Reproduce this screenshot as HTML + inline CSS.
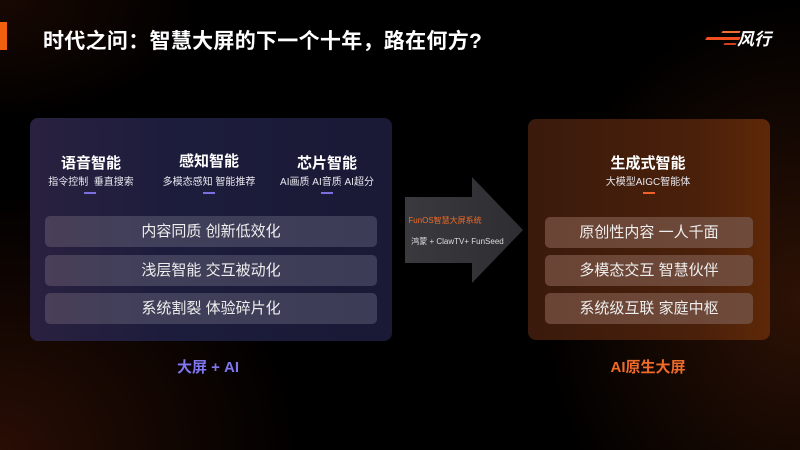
<!DOCTYPE html>
<html><head><meta charset="utf-8"><style>
*{margin:0;padding:0;box-sizing:border-box}
body{width:800px;height:450px;overflow:hidden;background:#000;font-family:"Liberation Sans","Noto Sans CJK SC",sans-serif;color:#fff;position:relative}
.bg{position:absolute;inset:0;background:radial-gradient(ellipse 300px 260px at 0 450px,rgba(90,30,10,.45),transparent),radial-gradient(ellipse 260px 300px at 800px 300px,rgba(90,35,10,.5),transparent),radial-gradient(ellipse 200px 120px at 0 0,rgba(60,20,5,.4),transparent)}
.abs{position:absolute}
.title{left:43px;top:25px;font-size:21px;font-weight:bold;letter-spacing:0.3px}
.bar{left:0;top:22px;width:7px;height:28px;background:#f0600f}
.lp{left:30px;top:118px;width:362px;height:223px;border-radius:8px;background:linear-gradient(90deg,#2a2140,#1c1c3c 40%,#1a1a36)}
.rp{left:528px;top:119px;width:242px;height:221px;border-radius:8px;background:linear-gradient(90deg,#3a1a0c,#4a200a 70%,#5e2808)}
.h{font-size:15px;font-weight:bold;text-align:center;width:120px}
.s{font-size:10px;text-align:center;width:130px;color:#e8e8f0}
.dl{width:12px;height:2px;background:#7b6fe0}
.row{height:31px;border-radius:5px;font-size:15px;text-align:center;line-height:31px;color:#eee}
.lr{left:45px;width:332px;background:linear-gradient(90deg,#4a3e58,#40405a 30%,#3c3c56)}
.rr{left:545px;width:208px;background:linear-gradient(90deg,#6a4434,#6e4a3a)}
</style></head><body>
<div class="bg"></div>
<div class="abs bar"></div>
<div class="abs title">时代之问：智慧大屏的下一个十年，路在何方?</div>
<div class="abs" style="left:722px;top:31px;width:18px;height:2px;background:#f07030;transform:skewX(-30deg)"></div>
<div class="abs" style="left:706px;top:37px;width:34px;height:3px;background:#f05020;transform:skewX(-30deg)"></div>
<div class="abs" style="left:724px;top:43px;width:12px;height:2px;background:#d04020;transform:skewX(-30deg)"></div>
<div class="abs" style="left:737px;top:25px;font-size:17px;font-style:italic;font-weight:bold">风行</div>

<div class="abs lp"></div>
<div class="abs h" style="left:31px;top:152px">语音智能</div>
<div class="abs s" style="left:26px;top:173px">指令控制&nbsp; 垂直搜索</div>
<div class="abs dl" style="left:84px;top:192px"></div>
<div class="abs h" style="left:149px;top:150px">感知智能</div>
<div class="abs s" style="left:144px;top:173px">多模态感知 智能推荐</div>
<div class="abs dl" style="left:203px;top:192px"></div>
<div class="abs h" style="left:267px;top:152px">芯片智能</div>
<div class="abs s" style="left:262px;top:173px">AI画质 AI音质 AI超分</div>
<div class="abs dl" style="left:321px;top:192px"></div>
<div class="abs row lr" style="top:216px">内容同质 创新低效化</div>
<div class="abs row lr" style="top:255px">浅层智能 交互被动化</div>
<div class="abs row lr" style="top:293px">系统割裂 体验碎片化</div>
<div class="abs" style="left:148px;top:356px;width:120px;text-align:center;font-size:15px;font-weight:bold;color:#7f76f0">大屏 + AI</div>

<svg class="abs" style="left:0;top:0" width="800" height="450"><defs><linearGradient id="ag" x1="0" x2="1"><stop offset="0" stop-color="#3a3a3e"/><stop offset="1" stop-color="#2e2e32"/></linearGradient></defs><polygon points="405,197 472,197 472,177 523,230 472,283 472,263 405,263" fill="url(#ag)"/></svg>
<div class="abs" style="left:405px;top:215px;width:80px;text-align:center;font-size:8px;color:#f06a2a">FunOS智慧大屏系统</div>
<div class="abs" style="left:400px;top:236px;width:115px;text-align:center;font-size:8px;color:#ddd">鸿蒙 + ClawTV+ FunSeed</div>

<div class="abs rp"></div>
<div class="abs h" style="left:588px;top:152px">生成式智能</div>
<div class="abs s" style="left:583px;top:173px">大模型AIGC智能体</div>
<div class="abs dl" style="left:643px;top:192px;background:#f0602a"></div>
<div class="abs row rr" style="top:217px">原创性内容 一人千面</div>
<div class="abs row rr" style="top:255px">多模态交互 智慧伙伴</div>
<div class="abs row rr" style="top:293px">系统级互联 家庭中枢</div>
<div class="abs" style="left:588px;top:356px;width:120px;text-align:center;font-size:15px;font-weight:bold;color:#f06a2a">AI原生大屏</div>
</body></html>
